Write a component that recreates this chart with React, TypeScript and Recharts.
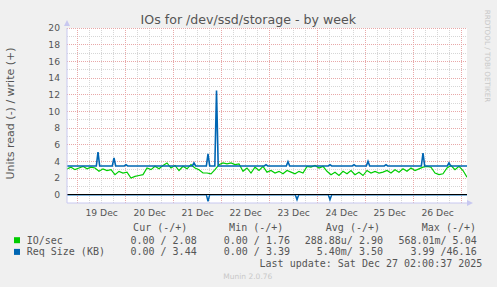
import React from 'react';
import { LineChart, Line, XAxis, YAxis, ReferenceLine, ReferenceArea } from 'recharts';

const GREEN = '#00cc00';
const BLUE = '#0066b3';
const TEXT = '#555';

// x axis is in days since 19 Dec 00:00
const START_DAY = -0.2229;
const END_DAY = 8.1104;
const IO_STEP = 1 / 12; // one sample every 2h

// IO/sec write
const ioWrite = [
  3.1, 3.3, 3.0, 3.2, 3.4, 3.1, 3.3, 3.2, 2.8, 3.1,
  2.9, 3.0, 2.4, 2.8, 2.6, 2.7, 2.0, 2.2, 2.3, 2.4,
  3.2, 3.0, 3.4, 3.1, 3.5, 3.8, 3.2, 3.5, 2.9, 3.4,
  3.1, 3.6, 3.2, 3.0, 2.6, 2.6, 2.5, 3.0, 3.6, 3.8,
  3.7, 3.8, 3.6, 3.7, 2.8, 3.2, 2.6, 3.3, 2.9, 3.4,
  2.7, 2.9, 2.6, 2.8, 2.5, 2.9, 2.7, 2.5, 2.8, 2.6,
  3.4, 3.3, 3.5, 3.2, 3.4, 2.8, 2.4, 2.7, 2.3, 2.8,
  2.5, 2.9, 2.4, 2.7, 2.3, 2.9, 2.6, 2.8, 2.6, 2.7,
  2.9, 2.6, 3.0, 2.7, 3.1, 2.8, 3.2, 2.9, 3.1, 3.3,
  3.4, 3.3, 2.6, 2.4, 2.5, 3.2, 3.5, 3.0, 3.4, 2.9,
  2.1,
];

// Req Size write: flat level with short spikes
const reqBase = 3.44;
const reqSpikeDays = [0.423, 0.756, 1.006, 2.423, 2.715, 2.892, 3.923, 4.381, 5.256, 5.756, 6.048, 6.423, 7.194, 7.735];
const reqSpikeValues = [5.1, 4.4, 3.6, 3.8, 4.9, 12.5, 3.6, 3.95, 3.6, 3.6, 4.0, 3.6, 5.0, 3.8];

// Req Size read (drawn negative)
const readSpikeDays = [2.715, 4.569, 5.256];
const readSpikeValues = [-0.8, -0.6, -0.6];

const dayLabels = ['19 Dec', '20 Dec', '21 Dec', '22 Dec', '23 Dec', '24 Dec', '25 Dec', '26 Dec'];
const yTicks = [0, 2, 4, 6, 8, 10, 12, 14, 16, 18, 20];

const legendRows = [
  { name: 'IO/sec', color: GREEN, cur: '0.00 / 2.08', min: '0.00 / 1.76', avg: '288.88u/ 2.90', max: '568.01m/ 5.04' },
  { name: 'Req Size (KB)', color: BLUE, cur: '0.00 / 3.44', min: '0.00 / 3.39', avg: '5.40m/ 3.50', max: '3.99 /46.16' },
];

const ioData = ioWrite.map((v, i) => ({ t: START_DAY + i * IO_STEP, v }));

const spikeSeries = (base: number, days: number[], vals: number[], half: number) => {
  const pts = [{ t: START_DAY, v: base }];
  days.forEach((d, i) => {
    pts.push({ t: d - half, v: base }, { t: d, v: vals[i] }, { t: d + half, v: base });
  });
  pts.push({ t: END_DAY, v: base });
  return pts;
};

const reqWriteData = spikeSeries(reqBase, reqSpikeDays, reqSpikeValues, 0.035);
const readData = spikeSeries(0, readSpikeDays, readSpikeValues, 0.035);

const majorX = [0, 1, 2, 3, 4, 5, 6, 7, 8];
const minorX: number[] = [];
for (let q = 0; q < 34; q++) if (q % 4 !== 0) minorX.push(q / 4);
const minorY = [1, 3, 5, 7, 9, 11, 13, 15, 17, 19];

const mono = 'DejaVu Sans Mono';
const sans = 'DejaVu Sans';

export default function App() {
  return (
    <div style={{ position: 'relative', width: 497, height: 287, background: '#f0f0f0' }}>
      <style>{'body{margin:0} .recharts-reference-line line{shape-rendering:crispEdges}'}</style>
      <LineChart
        width={497}
        height={287}
        margin={{ top: 28, right: 30, bottom: 64, left: 37 }}
        style={{ position: 'absolute', left: 0, top: 0 }}
      >
        <XAxis
          dataKey="t"
          type="number"
          domain={[START_DAY, END_DAY]}
          allowDataOverflow
          ticks={[0.5, 1.5, 2.5, 3.5, 4.5, 5.5, 6.5, 7.5]}
          tickFormatter={(t: number) => dayLabels[Math.floor(t)]}
          interval={0}
          height={20}
          tickSize={0}
          tickMargin={6}
          axisLine={{ stroke: '#c8c8f0' }}
          tick={{ fill: TEXT, fontSize: 9.2, fontFamily: sans }}
        />
        <YAxis
          type="number"
          domain={[-1, 20]}
          allowDataOverflow
          ticks={yTicks}
          interval={0}
          width={30}
          tickSize={0}
          tickMargin={7}
          axisLine={{ stroke: '#c8c8f0' }}
          tick={{ fill: TEXT, fontSize: 9.2, fontFamily: sans }}
        />
        <ReferenceArea x1={START_DAY} x2={END_DAY} y1={-1} y2={20} fill="#fff" fillOpacity={1} stroke="none" />
        {minorX.map((x) => (
          <ReferenceLine key={'mx' + x} x={x} stroke="#d6d6d6" strokeDasharray="1 1" />
        ))}
        {minorY.map((y) => (
          <ReferenceLine key={'my' + y} y={y} stroke="#d6d6d6" strokeDasharray="1 1" />
        ))}
        {majorX.map((x) => (
          <ReferenceLine key={'Mx' + x} x={x} stroke="#e8a8a8" strokeDasharray="1 1" />
        ))}
        {yTicks.slice(1).map((y) => (
          <ReferenceLine key={'My' + y} y={y} stroke="#e8a8a8" strokeDasharray="1 1" />
        ))}
        <Line data={ioData} dataKey="v" stroke={GREEN} strokeWidth={1.2} dot={false} isAnimationActive={false} />
        <Line data={readData} dataKey="v" stroke={BLUE} strokeWidth={1.5} dot={false} isAnimationActive={false} />
        <Line data={reqWriteData} dataKey="v" stroke={BLUE} strokeWidth={1.6} dot={false} isAnimationActive={false} />
        <ReferenceLine y={0} stroke="#000" strokeWidth={1.4} />
      </LineChart>
      <svg width={497} height={287} style={{ position: 'absolute', left: 0, top: 0, pointerEvents: 'none' }}>
        {/* axis arrows */}
        <path d="M64 26 L67 20 L70 26 Z" fill="#c8c8f0" />
        <path d="M467 200 L473 203 L467 206 Z" fill="#c8c8f0" />
        <text x={248.3} y={19} textAnchor="middle" dominantBaseline="central" fontFamily={sans} fontSize={12.6} fill={TEXT}>
          IOs for /dev/ssd/storage - by week
        </text>
        <text
          x={10}
          y={113.5}
          textAnchor="middle"
          dominantBaseline="central"
          fontFamily={sans}
          fontSize={11}
          fill={TEXT}
          transform="rotate(-90 10 113.5)"
        >
          Units read (-) / write (+)
        </text>
        <text
          x={487.7}
          y={56}
          textAnchor="middle"
          dominantBaseline="central"
          fontFamily={sans}
          fontSize={7.2}
          fill="#c8c8c8"
          transform="rotate(90 487.7 56)"
        >
          RRDTOOL / TOBI OETIKER
        </text>
        <g fontFamily={mono} fontSize={10} fill={TEXT} dominantBaseline="central">
          <text x={187.3} y={227.3} textAnchor="end">Cur (-/+)</text>
          <text x={283.3} y={227.3} textAnchor="end">Min (-/+)</text>
          <text x={380} y={227.3} textAnchor="end">Avg (-/+)</text>
          <text x={476} y={227.3} textAnchor="end">Max (-/+)</text>
          {legendRows.map((r, i) => {
            const y = 240 + i * 11.7;
            return (
              <g key={r.name}>
                <rect x={14} y={y - 2.8} width={6} height={6} fill={r.color} />
                <text x={26.7} y={y}>{r.name}</text>
                <text x={196.7} y={y} textAnchor="end">{r.cur}</text>
                <text x={290} y={y} textAnchor="end">{r.min}</text>
                <text x={383} y={y} textAnchor="end">{r.avg}</text>
                <text x={476.7} y={y} textAnchor="end">{r.max}</text>
              </g>
            );
          })}
          <text x={482.3} y={263.3} textAnchor="end">Last update: Sat Dec 27 02:00:37 2025</text>
        </g>
        <text x={247.8} y={276.7} textAnchor="middle" dominantBaseline="central" fontFamily={sans} fontSize={7.5} fill="#c8c8c8">
          Munin 2.0.76
        </text>
      </svg>
    </div>
  );
}
